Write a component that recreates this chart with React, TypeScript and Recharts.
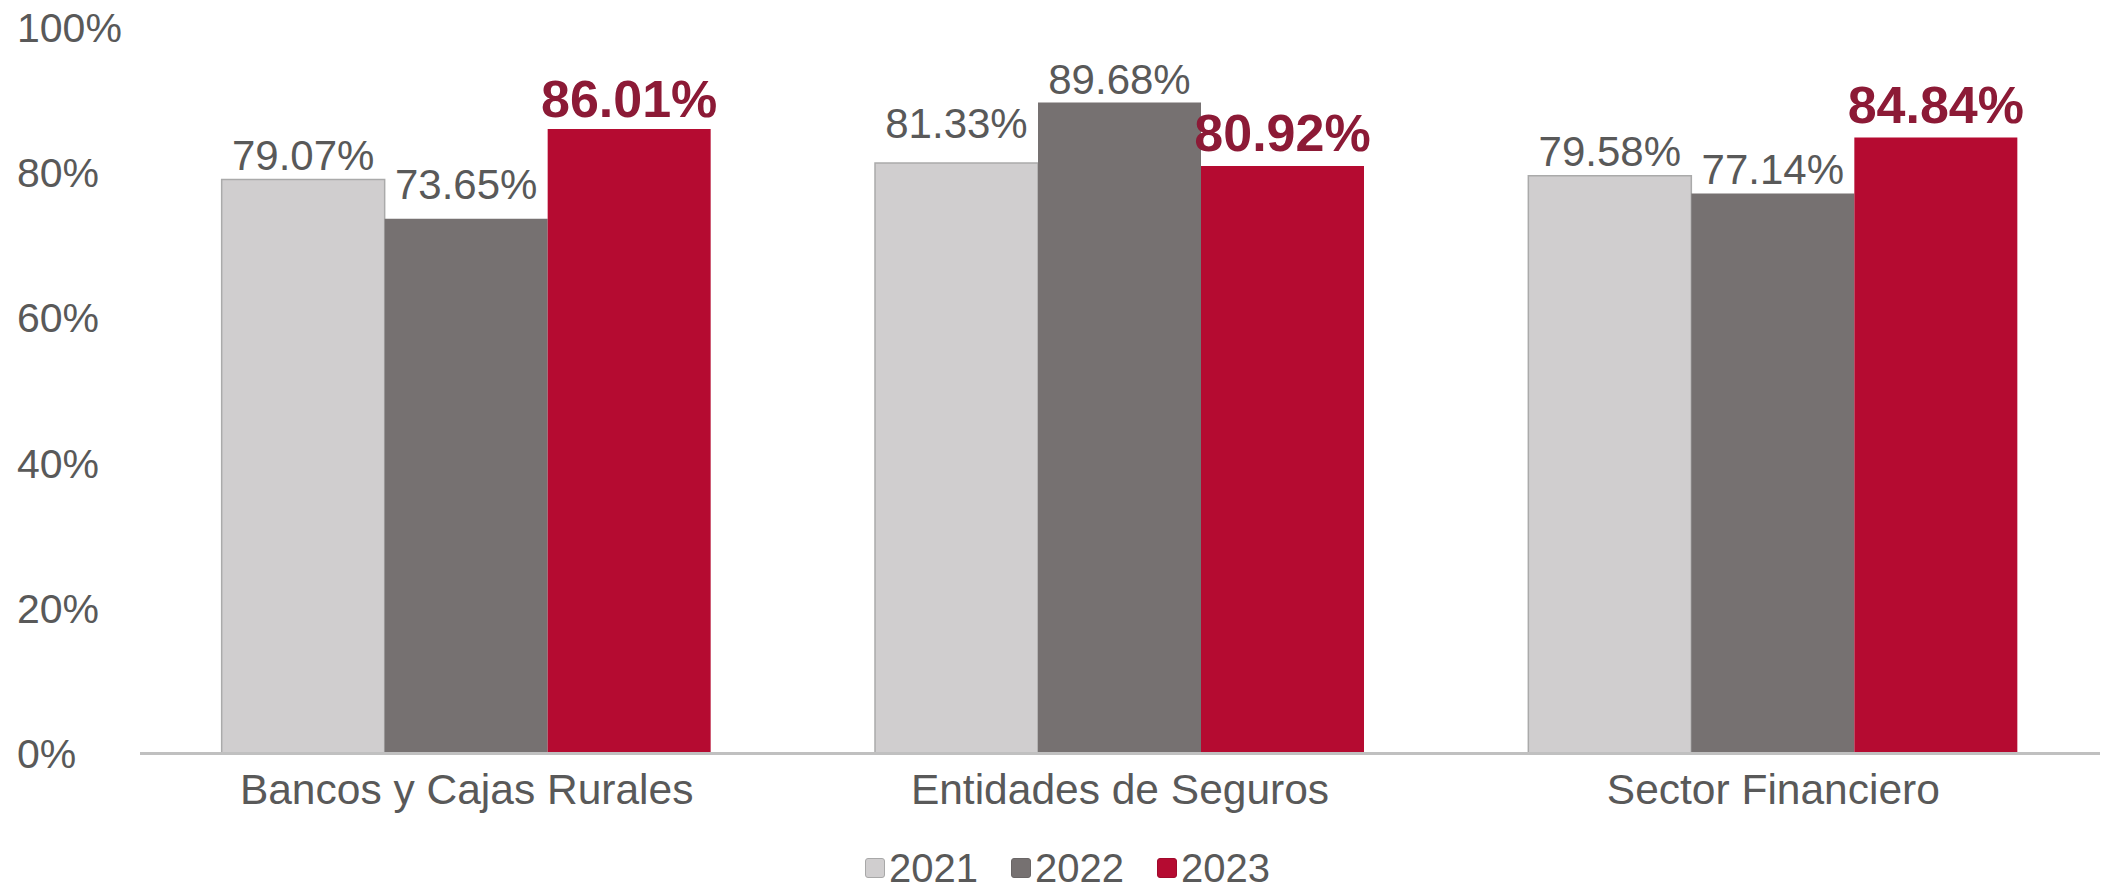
import React from "react";
import { BarChart, Bar, XAxis, YAxis, LabelList } from "recharts";

const categories = ["Bancos y Cajas Rurales", "Entidades de Seguros", "Sector Financiero"];
const values2021 = [79.07, 81.33, 79.58];
const values2022 = [73.65, 89.68, 77.14];
const values2023 = [86.01, 80.92, 84.84];
const yTicks = [0, 20, 40, 60, 80, 100];
const seriesNames = ["2021", "2022", "2023"];

// vertical gap (px) between bar top and label baseline, per point
const labelGap2021 = [9, 25, 10];
const labelGap2022 = [20, 8, 9];
const labelGap2023 = [12, 15, 15];

const FONT = "'Liberation Sans', Arial, sans-serif";
const TEXT = "#595959";
const C2021 = "#d0cecf";
const C2022 = "#767171";
const C2023 = "#b50b31";
const C2023_LABEL = "#8c1a36";

const data = categories.map((c, i) => ({
  name: c,
  y2021: values2021[i],
  y2022: values2022[i],
  y2023: values2023[i],
}));

const fmt = (v: number) => v.toFixed(2) + "%";

const makeNormalLabel = (gaps: number[]) => (props: any) => {
  const { x, y, width, value, index } = props;
  return (
    <text x={x + width / 2} y={y - gaps[index]} textAnchor="middle" fill={TEXT} fontSize={42} fontFamily={FONT}>
      {fmt(value)}
    </text>
  );
};

const makeBoldLabel = (gaps: number[]) => (props: any) => {
  const { x, y, width, value, index } = props;
  return (
    <text x={x + width / 2} y={y - gaps[index]} textAnchor="middle" fill={C2023_LABEL} fontSize={52} fontWeight="bold" fontFamily={FONT}>
      {fmt(value)}
    </text>
  );
};

const YTick = (props: any) => {
  const { y, payload } = props;
  return (
    <text x={17} y={y} dy="0.355em" textAnchor="start" fill={TEXT} fontSize={41} fontFamily={FONT}>
      {payload.value + "%"}
    </text>
  );
};

const XTick = (props: any) => {
  const { x, y, payload } = props;
  return (
    <text x={x} y={y + 50} textAnchor="middle" fill={TEXT} fontSize={42.5} fontFamily={FONT}>
      {payload.value}
    </text>
  );
};

const legendColors = [
  { fill: C2021, stroke: "#a8a8a8" },
  { fill: C2022, stroke: "#6a6666" },
  { fill: C2023, stroke: "#a00a2c" },
];

export default function App() {
  return (
    <div style={{ position: "absolute", left: 0, top: 0, width: 2105, height: 887, background: "#fff" }}>
      <BarChart
        width={2105}
        height={887}
        data={data}
        margin={{ top: 27.5, right: 5, bottom: 63.5, left: 0 }}
        barCategoryGap="12.5%"
        barGap={0}
      >
        <YAxis
          domain={[0, 100]}
          ticks={yTicks}
          width={140}
          axisLine={false}
          tickLine={false}
          tick={<YTick />}
          interval={0}
        />
        <XAxis
          dataKey="name"
          height={70}
          axisLine={{ stroke: "#c0c0c0", strokeWidth: 3 }}
          tickLine={false}
          tickSize={0}
          tickMargin={0}
          tick={<XTick />}
          interval={0}
        />
        <Bar dataKey="y2021" name={seriesNames[0]} fill={C2021} stroke="#aaaaaa" strokeWidth={1.5} isAnimationActive={false}>
          <LabelList dataKey="y2021" content={makeNormalLabel(labelGap2021)} />
        </Bar>
        <Bar dataKey="y2022" name={seriesNames[1]} fill={C2022} isAnimationActive={false}>
          <LabelList dataKey="y2022" content={makeNormalLabel(labelGap2022)} />
        </Bar>
        <Bar dataKey="y2023" name={seriesNames[2]} fill={C2023} isAnimationActive={false}>
          <LabelList dataKey="y2023" content={makeBoldLabel(labelGap2023)} />
        </Bar>
      </BarChart>
      <div
        style={{
          position: "absolute",
          left: 865,
          top: 848,
          display: "flex",
          alignItems: "center",
          fontFamily: FONT,
          fontSize: 40,
          lineHeight: "40px",
          color: TEXT,
        }}
      >
        {seriesNames.map((s, i) => (
          <div key={s} style={{ display: "flex", alignItems: "center", marginRight: i < 2 ? 33 : 0 }}>
            <div
              style={{
                width: 18,
                height: 18,
                background: legendColors[i].fill,
                border: "1px solid " + legendColors[i].stroke,
                borderRadius: 3,
                marginRight: 4,
              }}
            />
            <span>{s}</span>
          </div>
        ))}
      </div>
    </div>
  );
}
